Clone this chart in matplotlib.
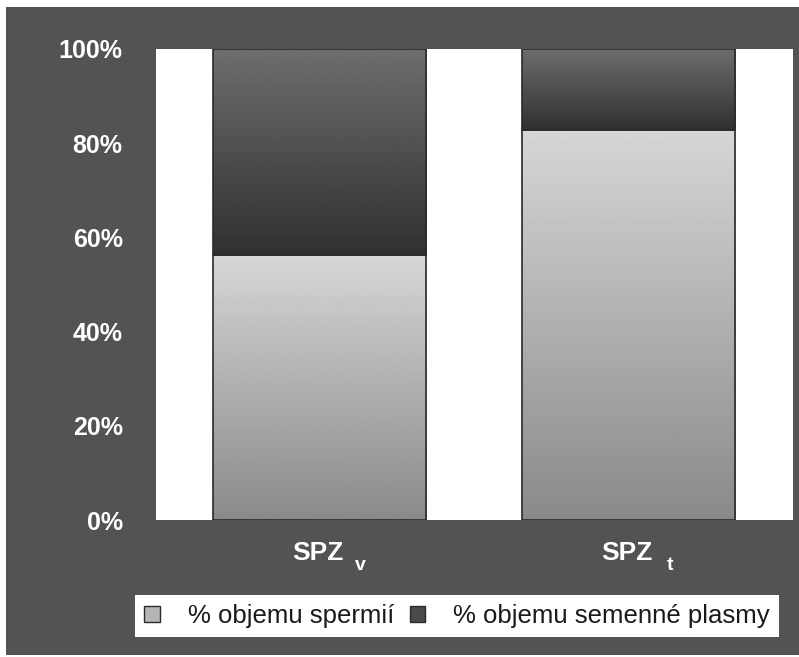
import numpy as np
import matplotlib
matplotlib.use("Agg")
import matplotlib.pyplot as plt
from matplotlib.patches import Rectangle
from matplotlib.transforms import blended_transform_factory, offset_copy

# objem spermii vs. semenne plasmy (%)
groups = ["v", "t"]
spermie = [56.3, 82.9]
plasma = [43.7, 17.1]
yticks = [0, 20, 40, 60, 80, 100]
legend_labels = ["% objemu spermií", "% objemu semenné plasmy"]

plt.rcParams["font.family"] = ["Liberation Sans", "DejaVu Sans"]

fig = plt.figure(figsize=(7.99, 6.57), dpi=100, facecolor="white")
# tmavy ramecek za grafem
fig.patches.append(Rectangle((6 / 799, 2 / 657), 1.0, 648 / 657,
                             transform=fig.transFigure, facecolor="#535353",
                             edgecolor="none", zorder=-10))

ax = fig.add_axes([156 / 799, 1 - 520 / 657, 637 / 799, 471 / 657])
ax.set_facecolor("white")

x = np.arange(len(groups))
w = 0.69
b1 = ax.bar(x, spermie, w, facecolor="none", edgecolor="#2a2a2a", lw=1.2, zorder=3)
b2 = ax.bar(x, plasma, w, bottom=spermie, facecolor="none", edgecolor="#2a2a2a", lw=1.2, zorder=3)


def gradient(bars, top, bottom):
    for r in bars:
        x0, y0 = r.get_x(), r.get_y()
        g = np.linspace(top, bottom, 256).reshape(-1, 1)
        ax.imshow(g, extent=[x0, x0 + r.get_width(), y0, y0 + r.get_height()],
                  origin="upper", cmap="gray", vmin=0, vmax=1, aspect="auto",
                  interpolation="bilinear", zorder=2)


gradient(b1, 0.84, 0.54)
gradient(b2, 0.43, 0.19)

ax.set_xlim(-0.529, 1.532)
ax.set_ylim(0, 100)
for s in ax.spines.values():
    s.set_visible(False)

ax.set_yticks(yticks)
ax.set_yticklabels([f"{v}%" for v in yticks], color="white", fontsize=18,
                   fontweight="bold")
ax.tick_params(axis="y", length=0, pad=24)
ax.set_xticks([])

# popisky skupin se spodnim indexem
tr = blended_transform_factory(ax.transData, ax.transAxes)
for i, sub in enumerate(groups):
    t1 = offset_copy(tr, fig=fig, x=-2, y=-40, units="dots")
    ax.text(i, 0, "SPZ", transform=t1, ha="center", va="baseline",
            color="white", fontsize=19, fontweight="bold")
    t2 = offset_copy(tr, fig=fig, x=41, y=-50, units="dots")
    ax.text(i, 0, sub, transform=t2, ha="center", va="baseline",
            color="white", fontsize=14, fontweight="bold")

handles = [Rectangle((0, 0), 1, 1, facecolor="#b5b5b5", edgecolor="#2a2a2a"),
           Rectangle((0, 0), 1, 1, facecolor="#4a4a4a", edgecolor="#2a2a2a")]
leg = fig.legend(handles, legend_labels, loc="center",
                 bbox_to_anchor=(457 / 799, 1 - 616 / 657), ncol=2,
                 fontsize=18.5, frameon=True, fancybox=False, shadow=False,
                 handlelength=0.6, handleheight=0.6, handletextpad=1.1,
                 columnspacing=0.6, borderpad=0.35, borderaxespad=0)
leg.get_frame().set_facecolor("white")
leg.get_frame().set_edgecolor("none")
leg.get_frame().set_alpha(1)
for t in leg.get_texts():
    t.set_color("#1a1a1a")

fig.savefig("out.png", dpi=100, facecolor=fig.get_facecolor())
